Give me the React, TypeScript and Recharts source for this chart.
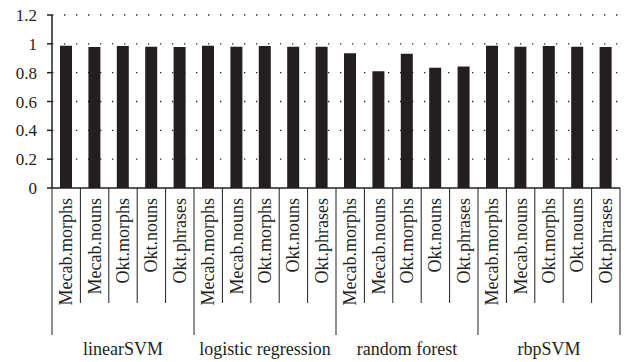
import React from 'react';
import { BarChart, Bar, XAxis, YAxis, CartesianGrid } from 'recharts';

const methods = ['linearSVM', 'logistic regression', 'random forest', 'rbpSVM'];
const features = ['Mecab.morphs', 'Mecab.nouns', 'Okt.morphs', 'Okt.nouns', 'Okt.phrases'];

const linearSVM = [0.987, 0.978, 0.985, 0.98, 0.978];
const logisticRegression = [0.987, 0.98, 0.985, 0.98, 0.98];
const randomForest = [0.935, 0.81, 0.932, 0.834, 0.843];
const rbpSVM = [0.987, 0.98, 0.985, 0.98, 0.978];

const yTicks = [0, 0.2, 0.4, 0.6, 0.8, 1, 1.2];

const seriesByMethod = [linearSVM, logisticRegression, randomForest, rbpSVM];

const data = methods.flatMap((method, m) =>
  features.map((feature, f) => ({
    key: `${method}-${feature}`,
    feature,
    method,
    value: seriesByMethod[m][f],
  }))
);

const INK = '#231f20';
const FONT = 'Liberation Serif';

const FeatureTick = (props: any) => {
  const { x, y, payload, index } = props;
  const half = payload?.offset ?? 14;
  const item = data[index];
  const isGroupStart = index % features.length === 0;
  const isGroupMid = index % features.length === 2;
  const isLast = index === data.length - 1;
  return (
    <g>
      <line x1={x - half} y1={y} x2={x - half} y2={y + (isGroupStart ? 147 : 115)} stroke={INK} strokeWidth={1} />
      {isLast && (
        <line x1={x + half} y1={y} x2={x + half} y2={y + 147} stroke={INK} strokeWidth={1} />
      )}
      <text
        transform={`translate(${x + 6}, ${y + 10}) rotate(-90)`}
        textAnchor="end"
        fontSize={18}
        style={{ fontFamily: FONT }}
        fill={INK}
      >
        {item.feature}
      </text>
      {isGroupMid && (
        <text x={x} y={y + 167} textAnchor="middle" fontSize={18} style={{ fontFamily: FONT }} fill={INK}>
          {item.method}
        </text>
      )}
    </g>
  );
};

export default function App() {
  return (
    <div style={{ position: 'absolute', left: 0, top: 0, background: '#fff', fontFamily: FONT }}>
      <BarChart
        width={625}
        height={362}
        data={data}
        margin={{ top: 15, right: 5, left: 8, bottom: 0 }}
        barSize={12}
      >
        <CartesianGrid
          vertical={false}
          stroke={INK}
          strokeWidth={1.3}
          strokeDasharray="1.3 10.7"
          horizontalValues={[0.2, 0.4, 0.6, 0.8, 1, 1.2]}
        />
        <XAxis
          dataKey="key"
          interval={0}
          height={174}
          tickLine={false}
          tickSize={0}
          tickMargin={0}
          axisLine={{ stroke: INK, strokeWidth: 1.5 }}
          tick={<FeatureTick />}
        />
        <YAxis
          domain={[0, 1.2]}
          ticks={yTicks}
          width={44}
          tickSize={5}
          tickMargin={10}
          axisLine={{ stroke: INK, strokeWidth: 1.5 }}
          tickLine={{ stroke: INK, strokeWidth: 1.5 }}
          tick={{ fill: INK, fontSize: 17, style: { fontFamily: FONT } }}
          tickFormatter={(v: number) => String(v)}
        />
        <Bar dataKey="value" fill={INK} isAnimationActive={false} />
      </BarChart>
    </div>
  );
}
